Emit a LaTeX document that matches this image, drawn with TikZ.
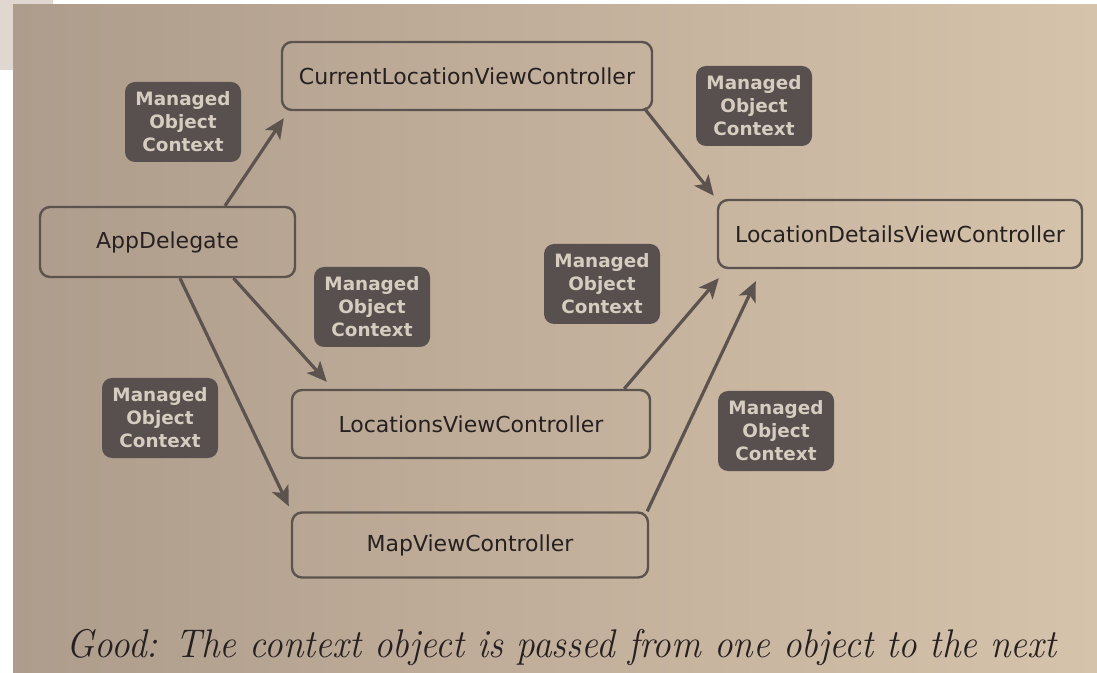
\documentclass[tikz,border=0pt]{standalone}
\usepackage{fontspec}
\usetikzlibrary{arrows.meta,calc}

\newfontfamily\boxfont{DejaVu Sans}

\definecolor{paperL}{RGB}{174,156,140}
\definecolor{paperR}{RGB}{214,195,171}
\definecolor{corner}{RGB}{224,216,208}
\definecolor{ink}{RGB}{92,83,79}
\definecolor{mocfill}{RGB}{88,80,78}
\definecolor{moctext}{RGB}{214,204,192}
\definecolor{print}{RGB}{38,32,32}

\tikzset{
  ctrl/.style={draw=ink, line width=1.2pt, rounded corners=5pt,
    text=print, font=\boxfont\fontsize{11}{13}\selectfont},
  moc/.style={fill=mocfill, rounded corners=5pt, text=moctext, align=center,
    minimum width=58pt, minimum height=40pt, inner sep=1pt,
    font=\boxfont\bfseries\fontsize{9.2}{11.5}\selectfont},
  passes/.style={draw=ink, line width=1.6pt,
    -{Stealth[length=10pt, width=9pt, inset=2.5pt]}},
}

\begin{document}
\begin{tikzpicture}[x=0.5pt, y=-0.5pt]
  \useasboundingbox (0,0) rectangle (1097,673);
  % page photo
  \fill[white] (0,0) rectangle (1097,673);
  \fill[corner] (0,0) rectangle (53,70);
  \shade[left color=paperL, right color=paperR] (13,5) rectangle (1097,673);

  % controllers
  \node[ctrl, minimum width=185pt, minimum height=34pt]   (current)   at (467,76)    {CurrentLocationViewController};
  \node[ctrl, minimum width=127.5pt, minimum height=35pt] (app)       at (167.5,242) {AppDelegate};
  \node[ctrl, minimum width=182pt, minimum height=34pt]   (details)   at (900,234)   {LocationDetailsViewController};
  \node[ctrl, minimum width=179pt, minimum height=34pt]   (locations) at (471,424)   {LocationsViewController};
  \node[ctrl, minimum width=178pt, minimum height=32.5pt] (map)       at (470,545)   {MapViewController};

  % context tags
  \node[moc] (moc1) at (183,122) {Managed\\Object\\Context};
  \node[moc] (moc2) at (754,106) {Managed\\Object\\Context};
  \node[moc] (moc3) at (372,307) {Managed\\Object\\Context};
  \node[moc] (moc4) at (602,284) {Managed\\Object\\Context};
  \node[moc] (moc5) at (160,418) {Managed\\Object\\Context};
  \node[moc] (moc6) at (776,431) {Managed\\Object\\Context};

  % handing the context on
  \path ($(app.north)+(57.5,0)$)         edge[passes] ($(current.south west)+(3,7)$);
  \path ($(current.south east)+(-9,-3)$) edge[passes] ($(details.north west)+(-3,-3)$);
  \path ($(app.south)+(66,0)$)           edge[passes] ($(locations.north west)+(36,-7)$);
  \path ($(app.south)+(12.5,0)$)         edge[passes] ($(map.north west)+(-2,-5)$);
  \path ($(locations.north east)+(-27,0)$) edge[passes] ($(details.south west)+(2,9)$);
  \path ($(map.north east)+(-2,0)$)      edge[passes] ($(details.south west)+(39,12)$);

  \node[anchor=base, text=print, xscale=0.93, font=\itshape\fontsize{20}{24}\selectfont] (caption) at (561.5,657)
    {Good: The context object is passed from one object to the next};
\end{tikzpicture}
\end{document}
